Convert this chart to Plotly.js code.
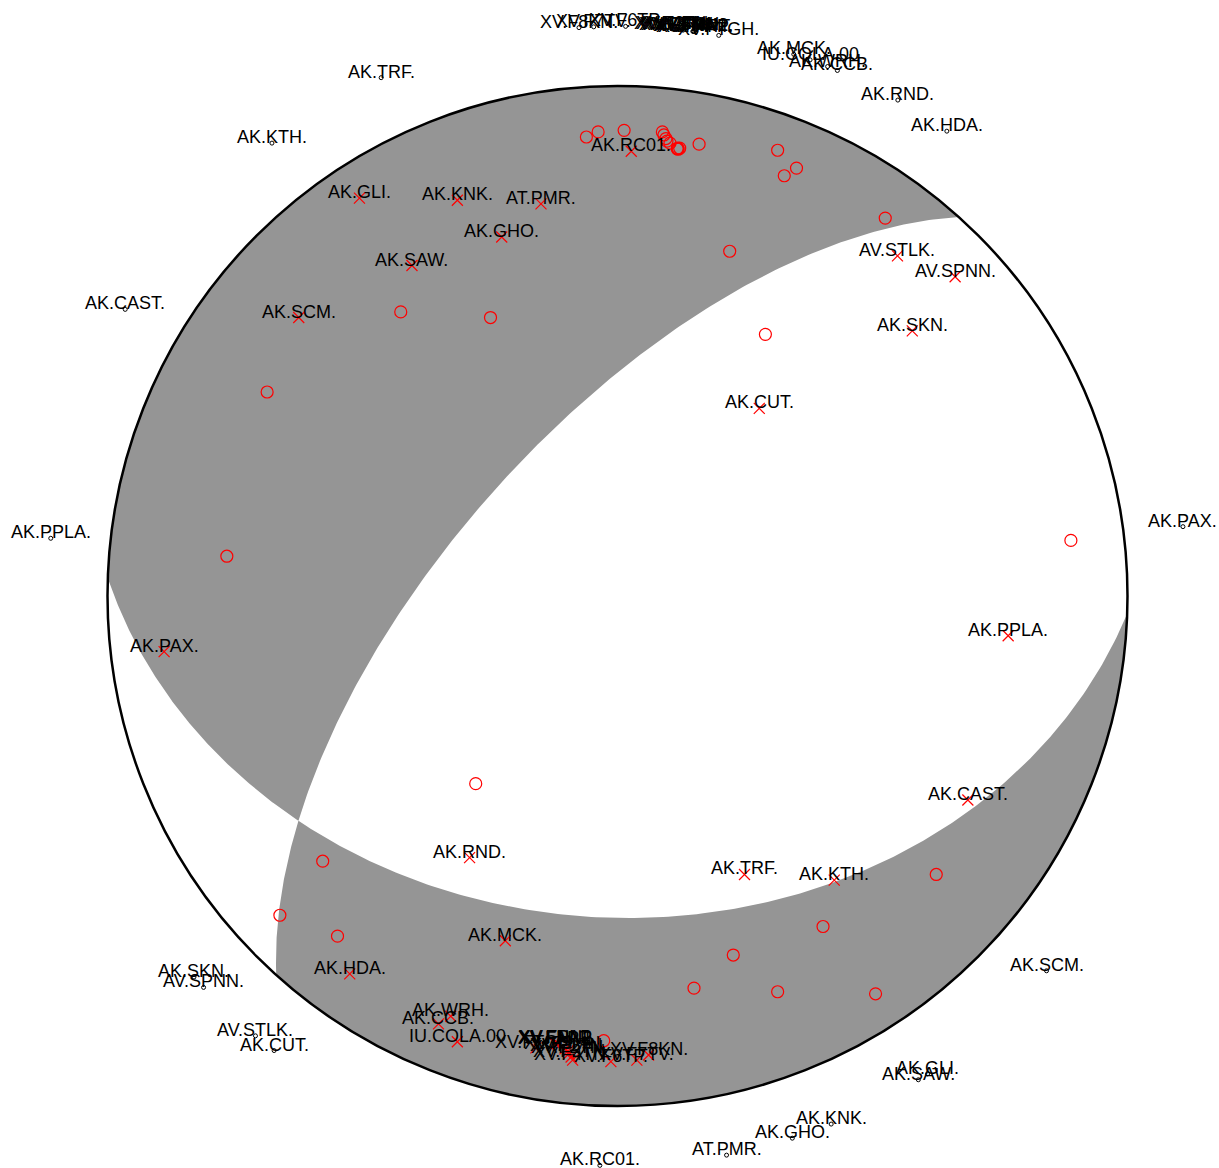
<!DOCTYPE html>
<html><head><meta charset="utf-8">
<script src="https://cdn.plot.ly/plotly-3.0.1.min.js"></script>
<style>html,body{margin:0;padding:0;background:#fff;} #chart{width:1219px;height:1168px;}</style>
</head><body><div id="chart"></div>
<script>
// Nodal planes of the focal mechanism (degrees)
const planeStrike = [222, 92];
const planeDip = [64, 37];

// Stations: lower-hemisphere (equal-area) projected position of each pick, unit radius
const stationNames = ["AK.RC01.","AK.GLI.","AK.KNK.","AT.PMR.","AK.GHO.","AK.SAW.","AK.SCM.",
  "AV.STLK.","AV.SPNN.","AK.SKN.","AK.CUT.","AK.PPLA.","AK.PAX.","AK.CAST.","AK.RND.",
  "AK.TRF.","AK.KTH.","AK.MCK.","AK.HDA.","AK.WRH.","AK.CCB.","IU.COLA.00",
  "XV.FTGH.","XV.FAPT.","XV.FPAP.","XV.FNN1.","XV.FNN2.","XV.F5MN.","XV.F1TN.","XV.F2TN.",
  "XV.F3TN.","XV.F4TN.","XV.F6TP.","XV.F7TV.","XV.F8KN."];
const stationX = [0.027,-0.506,-0.314,-0.150,-0.227,-0.403,-0.625,
  0.549,0.662,0.578,0.278,0.766,-0.889,0.687,-0.290,
  0.249,0.425,-0.220,-0.525,-0.327,-0.351,-0.314,
  -0.160,-0.122,-0.119,-0.117,-0.118,-0.103,-0.097,-0.095,
  -0.091,-0.088,-0.013,0.038,0.061];
const stationY = [0.872,0.780,0.776,0.769,0.704,0.648,0.546,
  0.667,0.626,0.520,0.368,-0.078,-0.109,-0.400,-0.513,
  -0.546,-0.557,-0.676,-0.741,-0.824,-0.839,-0.874,
  -0.886,-0.878,-0.876,-0.877,-0.878,-0.888,-0.892,-0.897,
  -0.904,-0.910,-0.913,-0.910,-0.900];
// radius at which the antipodal station azimuth labels are placed
const labelRadius = 1.117;

// ---------- geometry of the beachball ----------
const d2r = Math.PI / 180;
function planeVecs(s, d) {
  s *= d2r; d *= d2r;
  return {
    s: s,
    sv: [Math.cos(s), Math.sin(s), 0],
    dv: [Math.cos(d) * Math.cos(s + Math.PI / 2), Math.cos(d) * Math.sin(s + Math.PI / 2), Math.sin(d)],
    n: [-Math.sin(d) * Math.sin(s), Math.sin(d) * Math.cos(s), -Math.cos(d)]
  };
}
function dot(a, b) { return a[0]*b[0] + a[1]*b[1] + a[2]*b[2]; }
function cross(a, b) { return [a[1]*b[2]-a[2]*b[1], a[2]*b[0]-a[0]*b[2], a[0]*b[1]-a[1]*b[0]]; }
function proj(v) {
  const p = Math.asin(Math.max(-1, Math.min(1, v[2])));
  const r = Math.SQRT2 * Math.sin((Math.PI / 2 - p) / 2);
  const az = Math.atan2(v[1], v[0]);
  return [r * Math.sin(az), r * Math.cos(az)];
}
function onPlane(P, t) {
  return [Math.cos(t)*P.sv[0] + Math.sin(t)*P.dv[0],
          Math.cos(t)*P.sv[1] + Math.sin(t)*P.dv[1],
          Math.cos(t)*P.sv[2] + Math.sin(t)*P.dv[2]];
}
const A = planeVecs(planeStrike[0], planeDip[0]);
const B = planeVecs(planeStrike[1], planeDip[1]);
let nul = cross(A.n, B.n);
const nl = Math.sqrt(dot(nul, nul));
nul = nul.map(v => v / nl);
if (nul[2] < 0) nul = nul.map(v => -v);
const tA = Math.atan2(dot(nul, A.dv), dot(nul, A.sv));
const tB = Math.atan2(dot(nul, B.dv), dot(nul, B.sv));

const N = 200;
function addPlane(xs, ys, P, t0, t1) {
  for (let i = 0; i <= N; i++) {
    const p = proj(onPlane(P, t0 + (t1 - t0) * i / N));
    xs.push(p[0]); ys.push(p[1]);
  }
}
function addArc(xs, ys, a0, a1) {
  for (let i = 0; i <= N; i++) {
    const a = a0 + (a1 - a0) * i / N;
    xs.push(Math.sin(a)); ys.push(Math.cos(a));
  }
}
// compressional region 1 (north-west)
const topX = [], topY = [];
addPlane(topX, topY, A, Math.PI, tA);
addPlane(topX, topY, B, tB, Math.PI);
addArc(topX, topY, B.s + Math.PI, A.s + Math.PI + 2 * Math.PI - (A.s + Math.PI > B.s + Math.PI ? 2*Math.PI : 0));
// compressional region 2 (south)
const botX = [], botY = [];
addPlane(botX, botY, B, 0, tB);
addPlane(botX, botY, A, tA, 0);
addArc(botX, botY, A.s, B.s);

// ---------- marks ----------
const upX = [], upY = [], antiX = [], antiY = [];
for (let i = 0; i < stationNames.length; i++) {
  const r = Math.sqrt(stationX[i]**2 + stationY[i]**2);
  antiX.push(-stationX[i]); antiY.push(-stationY[i]);
  upX.push(-stationX[i] / r * labelRadius); upY.push(-stationY[i] / r * labelRadius);
}

const traces = [
  {x: topX, y: topY, type: 'scatter', mode: 'lines', fill: 'toself', fillcolor: '#959595',
   line: {width: 0, color: '#959595'}, hoverinfo: 'skip'},
  {x: botX, y: botY, type: 'scatter', mode: 'lines', fill: 'toself', fillcolor: '#959595',
   line: {width: 0, color: '#959595'}, hoverinfo: 'skip'},
  {x: stationX, y: stationY, type: 'scatter', mode: 'markers',
   marker: {symbol: 'x-thin-open', size: 11, color: 'red', line: {color: 'red', width: 1.2}}},
  {x: antiX, y: antiY, type: 'scatter', mode: 'markers',
   marker: {symbol: 'circle-open', size: 12, color: 'red', line: {color: 'red', width: 1.2}}},
  {x: upX, y: upY, type: 'scatter', mode: 'markers',
   marker: {symbol: 'circle-open', size: 4, color: 'black', line: {color: 'black', width: 1}}}
];

const font = {family: 'Liberation Sans, Arial, Helvetica, sans-serif', size: 18, color: 'black'};
const annotations = [];
for (let i = 0; i < stationNames.length; i++) {
  annotations.push({x: stationX[i], y: stationY[i], text: stationNames[i], showarrow: false,
    xanchor: 'center', yanchor: 'middle', yshift: 6, font: font});
  annotations.push({x: upX[i], y: upY[i], text: stationNames[i], showarrow: false,
    xanchor: 'center', yanchor: 'middle', yshift: 6, font: font});
}

const R = 510, cx = 617.5, cy = 596, W = 1219, H = 1168;
const layout = {
  width: W, height: H, autosize: false,
  margin: {l: 0, r: 0, t: 0, b: 0, pad: 0},
  paper_bgcolor: 'white', plot_bgcolor: 'white',
  showlegend: false,
  xaxis: {range: [-cx / R, (W - cx) / R], visible: false, fixedrange: true},
  yaxis: {range: [-(H - cy) / R, cy / R], visible: false, fixedrange: true},
  shapes: [{type: 'circle', xref: 'x', yref: 'y', x0: -1, x1: 1, y0: -1, y1: 1,
    line: {color: 'black', width: 2.5}, layer: 'above'}],
  annotations: annotations
};
Plotly.newPlot('chart', traces, layout, {displayModeBar: false, staticPlot: true});
</script>
</body></html>
